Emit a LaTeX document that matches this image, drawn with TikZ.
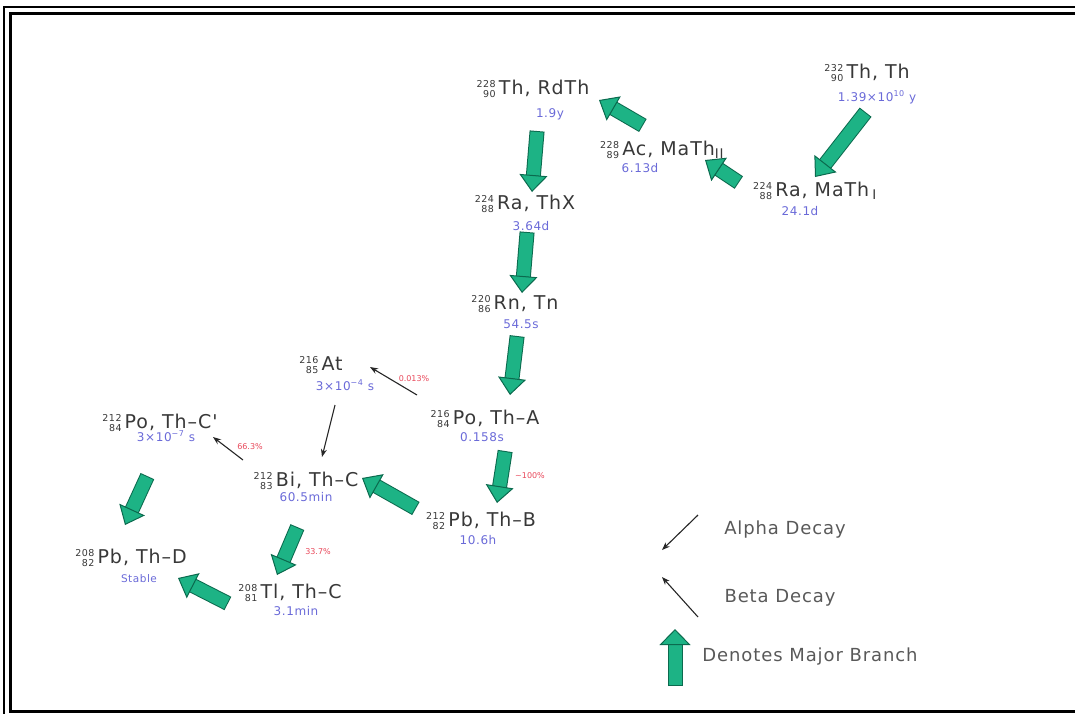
\documentclass[tikz,border=0pt]{standalone}
\usepackage{fontspec}
\setmainfont{DejaVu Sans}
\newfontfamily\lblfont[LetterSpace=5]{DejaVu Sans}
\usetikzlibrary{arrows.meta,calc}
\definecolor{cName}{HTML}{383838}
\definecolor{cLife}{HTML}{6A6AD8}
\definecolor{cPct} {HTML}{E8485A}
\definecolor{cMaj} {HTML}{1DB385}
\definecolor{cMajD}{HTML}{0B6A4E}
% mass number over atomic number, then the symbol
\newcommand{\nuc}[3]{\raisebox{-3.5pt}{\fontsize{9.5}{9.5}\selectfont\shortstack[r]{#1\\#2}}\,#3}
\tikzset{
  nuc/.style   ={font=\lblfont\fontsize{19}{22}\selectfont,text=cName,inner sep=0pt,anchor=base},
  life/.style  ={font=\lblfont\fontsize{12}{14}\selectfont,text=cLife,inner sep=0pt,anchor=base},
  pct/.style   ={font=\fontsize{8}{9}\selectfont,text=cPct,inner sep=0pt},
  legtxt/.style={font=\lblfont\fontsize{18}{21}\selectfont,text=black!65,inner sep=0pt},
  major/.style ={draw=cMaj,line width=13pt,
                 -{Triangle[length=17pt 0,width=28pt 0,fill=cMaj,color=cMajD,line width=1pt]},
                 preaction={draw=cMajD,line width=15pt,arrows=-,shorten >=14pt,shorten <=-1pt}},
  minor/.style ={draw=black!85,line width=1.1pt,-{Stealth[length=8pt,width=6pt]}},
}

\begin{document}
\begin{tikzpicture}[x=1pt, y=-1pt]
\useasboundingbox (0,0) rectangle (1075,713);
% double frame, cut by the page on the right
\draw[line width=2pt] (4,7) rectangle (1090,725);
\draw[line width=3pt] (10.5,13.5) rectangle (1090,711.5);

% nuclides
\node[nuc]  (th232)   at (867,78)  {\nuc{232}{90}{Th, Th}};
\node[life] (th232hl) at (877,101) {1.39×10\textsuperscript{10} y};
\node[nuc]  (rdth)    at (533,94)  {\nuc{228}{90}{Th, RdTh}};
\node[life] (rdthhl)  at (550,117) {1.9y};
\node[nuc]  (ac)      at (662,155) {\nuc{228}{89}{Ac, MaTh\textsubscript{II}}};
\node[life] (achl)    at (640,172) {6.13d};
\node[nuc]  (math)    at (815,196) {\nuc{224}{88}{Ra, MaTh\,\textsubscript{I}}};
\node[life] (mathhl)  at (800,215) {24.1d};
\node[nuc]  (thx)     at (525,209) {\nuc{224}{88}{Ra, ThX}};
\node[life] (thxhl)   at (531,230) {3.64d};
\node[nuc]  (tn)      at (515,309) {\nuc{220}{86}{Rn, Tn}};
\node[life] (tnhl)    at (521,328) {54.5s};
\node[nuc]  (at)      at (321,370) {\nuc{216}{85}{At}};
\node[life] (athl)    at (345,390) {3×10\textsuperscript{−4} s};
\node[nuc]  (tha)     at (485,424) {\nuc{216}{84}{Po, Th–A}};
\node[life] (thahl)   at (482,441) {0.158s};
\node[nuc]  (thcp)    at (160,428) {\nuc{212}{84}{Po, Th–C'}};
\node[life] (thcphl)  at (166,441) {3×10\textsuperscript{−7} s};
\node[nuc]  (thc)     at (306,486) {\nuc{212}{83}{Bi, Th–C}};
\node[life] (thchl)   at (306,501) {60.5min};
\node[nuc]  (thb)     at (481,526) {\nuc{212}{82}{Pb, Th–B}};
\node[life] (thbhl)   at (478,544) {10.6h};
\node[nuc]  (thd)     at (131,563) {\nuc{208}{82}{Pb, Th–D}};
\node[life,font=\lblfont\fontsize{10.5}{12}\selectfont] (thdhl) at (139,582) {Stable};
\node[nuc]  (tl)      at (290,598) {\nuc{208}{81}{Tl, Th–C}};
\node[life] (tlhl)    at (296,615) {3.1min};

% major branches
\draw[major] ([shift={(-2,35)}]th232.base)  -- ([shift={(0,-19)}]math.base);
\draw[major] ([shift={(-77,-14)}]math.base) -- ([shift={(43,5)}]ac.base);
\draw[major] ([shift={(-20,-30)}]ac.base)   -- ([shift={(66,6)}]rdth.base);
\draw[major] ([shift={(4,38)}]rdth.base)    -- ([shift={(7,-17)}]thx.base);
\draw[major] ([shift={(2,24)}]thx.base)     -- ([shift={(7,-16)}]tn.base);
\draw[major] ([shift={(2,28)}]tn.base)      -- ([shift={(25,-29)}]tha.base);
\draw[major] ([shift={(20,28)}]tha.base)    -- ([shift={(16,-23)}]thb.base);
\draw[major] ([shift={(-66,-18)}]thb.base)  -- ([shift={(56,-8)}]thc.base);
\draw[major] ([shift={(-9,42)}]thc.base)    -- ([shift={(-13,-23)}]tl.base);
\draw[major] ([shift={(-63,5)}]tl.base)     -- ([shift={(47,15)}]thd.base);
\draw[major] ([shift={(-13,49)}]thcp.base)  -- ([shift={(-6,-38)}]thd.base);

% minor branches
\draw[minor] ([shift={(-68,-29)}]tha.base) -- ([shift={(49,-3)}]at.base);
\draw[minor] ([shift={(14,35)}]at.base)    -- ([shift={(16,-29)}]thc.base);
\draw[minor] ([shift={(-63,-26)}]thc.base) -- ([shift={(53,9)}]thcp.base);

\node[pct] (p1) at (414,379) {0.013\%};
\node[pct] (p2) at (530,476) {\textasciitilde100\%};
\node[pct] (p3) at (250,447) {66.3\%};
\node[pct] (p4) at (318,552) {33.7\%};

% legend
\coordinate (alA) at (698,515); \coordinate (alB) at (662,550);
\coordinate (beA) at (698,617); \coordinate (beB) at (662,577);
\coordinate (mjA) at (675,685); \coordinate (mjB) at (675,629);
\draw[minor] (alA) -- (alB);
\draw[minor] (beA) -- (beB);
\draw[major,-{Triangle[length=16pt 0,width=31pt 0,fill=cMaj,color=cMajD,line width=1pt]}] (mjA) -- (mjB);
\node[legtxt] (alpha)  at (785,530) {Alpha Decay};
\node[legtxt] (beta)   at (780,598) {Beta Decay};
\node[legtxt] (majtxt) at (810,657) {Denotes Major Branch};
\end{tikzpicture}
\end{document}
